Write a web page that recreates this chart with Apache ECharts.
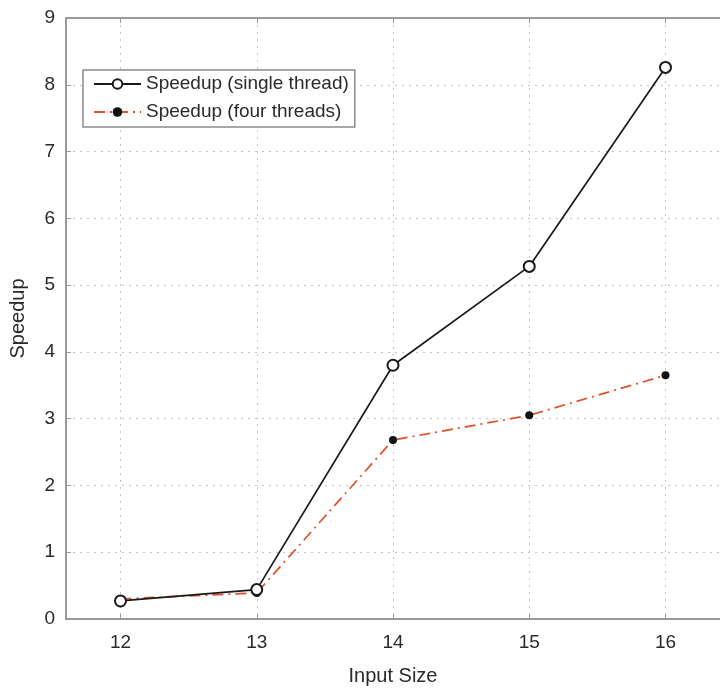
<!DOCTYPE html>
<html>
<head>
<meta charset="utf-8">
<script src="https://cdn.jsdelivr.net/npm/echarts@6/dist/echarts.min.js"></script>
<style>
  html, body { margin: 0; padding: 0; background: #fff; }
  #chart { width: 720px; height: 691px; }
</style>
</head>
<body>
<div id="chart"></div>
<script>
// Input sizes on the x axis
const inputSizes = [12, 13, 14, 15, 16];
// Measured speedups
const speedupSingle = [0.27, 0.44, 3.80, 5.28, 8.26];
const speedupFour = [0.30, 0.39, 2.68, 3.05, 3.65];
// Tick positions on the x axis
const xTicks = [12, 13, 14, 15, 16];

const FONT = '"Liberation Sans", Arial, Helvetica, sans-serif';
const AXIS_GREY = '#9a9a9a';
const GRID_GREY = '#c4c4c4';
const TEXT = '#2a2a2a';

const pairs = (xs, ys) => xs.map((x, i) => [x, ys[i]]);

const chart = echarts.init(document.getElementById('chart'), null, { renderer: 'canvas' });

const xBase = {
  type: 'value',
  min: 11.6,
  max: 16.4,
  axisLine: { show: true, onZero: false, lineStyle: { color: AXIS_GREY, width: 2 } },
  axisTick: {
    show: true, inside: true, length: 5, customValues: xTicks,
    lineStyle: { color: AXIS_GREY, width: 1 }
  }
};

chart.setOption({
  animation: false,
  backgroundColor: '#ffffff',
  textStyle: { fontFamily: FONT },
  grid: { left: 65, top: 18, width: 656, height: 604, containLabel: false },
  legend: {
    orient: 'vertical',
    left: 83,
    top: 70,
    backgroundColor: '#ffffff',
    borderColor: '#8c8c8c',
    borderWidth: 1.5,
    borderRadius: 0,
    padding: [4, 6, 5, 10],
    itemWidth: 47,
    itemHeight: 12,
    itemGap: 8,
    textStyle: { fontFamily: FONT, fontSize: 19, color: TEXT, lineHeight: 20 },
    data: ['Speedup (single thread)', 'Speedup (four threads)']
  },
  xAxis: [
    Object.assign({}, xBase, {
      position: 'bottom',
      name: 'Input Size',
      nameLocation: 'middle',
      nameGap: 47,
      nameTextStyle: { fontFamily: FONT, fontSize: 20, color: TEXT },
      axisLabel: {
        show: true, margin: 14, fontFamily: FONT, fontSize: 19, color: TEXT,
        customValues: xTicks
      },
      splitLine: {
        show: true, customValues: xTicks,
        lineStyle: { color: GRID_GREY, width: 1, type: [2, 5] }
      }
    }),
    Object.assign({}, xBase, {
      position: 'top',
      axisLabel: { show: false },
      splitLine: { show: false }
    })
  ],
  yAxis: [
    {
      type: 'value',
      min: 0,
      max: 9,
      interval: 1,
      position: 'left',
      name: 'Speedup',
      nameLocation: 'middle',
      nameGap: 38,
      nameTextStyle: { fontFamily: FONT, fontSize: 20, color: TEXT },
      axisLine: { show: true, lineStyle: { color: AXIS_GREY, width: 2 } },
      axisTick: { show: true, inside: true, length: 5, lineStyle: { color: AXIS_GREY, width: 1 } },
      axisLabel: { margin: 11, fontFamily: FONT, fontSize: 19, color: TEXT },
      splitLine: { show: true, lineStyle: { color: GRID_GREY, width: 1, type: [2, 5] } }
    }
  ],
  series: [
    {
      name: 'Speedup (single thread)',
      type: 'line',
      xAxisIndex: 0,
      data: pairs(inputSizes, speedupSingle),
      symbol: 'emptyCircle',
      symbolSize: 11,
      showSymbol: true,
      showAllSymbol: true,
      lineStyle: { color: '#1a1a1a', width: 1.7 },
      itemStyle: { color: '#1a1a1a', borderColor: '#1a1a1a', borderWidth: 1.5 },
      z: 3
    },
    {
      name: 'Speedup (four threads)',
      type: 'line',
      xAxisIndex: 0,
      data: pairs(inputSizes, speedupFour),
      symbol: 'circle',
      symbolSize: 8,
      showSymbol: true,
      showAllSymbol: true,
      lineStyle: { color: '#e0502a', width: 1.7, type: [11, 5, 2, 5] },
      itemStyle: { color: '#111111', borderColor: '#111111', borderWidth: 0 },
      z: 2
    }
  ]
});
</script>
</body>
</html>
